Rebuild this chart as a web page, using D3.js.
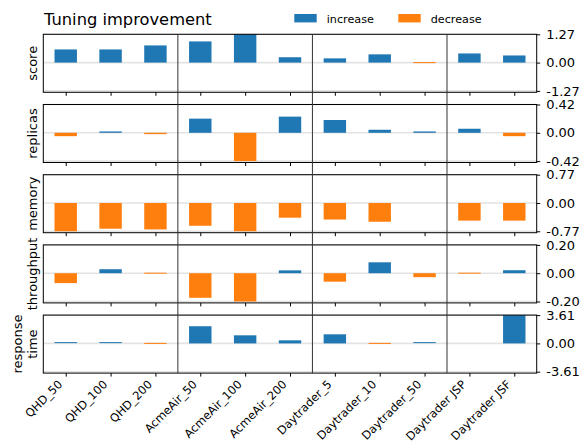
<!DOCTYPE html>
<html>
<head>
<meta charset="utf-8">
<script src="https://cdn.jsdelivr.net/npm/d3@7"></script>
<style>
  body { margin: 0; background: #fff; }
  svg { display: block; }
  text { font-family: "DejaVu Sans", sans-serif; fill: #000; }
</style>
</head>
<body>
<svg id="chart" width="582" height="444"></svg>
<script>
// Benchmarks along the x axis
const categories = ["QHD_50", "QHD_100", "QHD_200", "AcmeAir_50", "AcmeAir_100", "AcmeAir_200",
                    "Daytrader_5", "Daytrader_10", "Daytrader_50", "Daytrader JSP", "Daytrader JSF"];

// One row of panels per metric
const metricLabels = [["score"], ["replicas"], ["memory"], ["throughput"], ["response", "time"]];

// Relative change per metric and benchmark
const scoreValues      = [0.59, 0.59, 0.77, 0.95, 1.27, 0.24, 0.19, 0.37, -0.03, 0.41, 0.32];
const replicasValues   = [-0.05, 0.02, -0.02, 0.21, -0.42, 0.24, 0.19, 0.045, 0.02, 0.06, -0.05];
const memoryValues     = [-0.77, -0.70, -0.72, -0.62, -0.77, -0.40, -0.45, -0.51, 0, -0.48, -0.48];
const throughputValues = [-0.07, 0.028, -0.005, -0.174, -0.20, 0.02, -0.06, 0.077, -0.028, -0.004, 0.021];
const responseValues   = [0.1, 0.1, -0.1, 2.19, 1.03, 0.39, 1.16, -0.1, 0.1, 0, 3.61];

// Symmetric tick value shown on each panel (±max)
const tickMax = [1.27, 0.42, 0.77, 0.20, 3.61];
const tickLabels = [["1.27", "0.00", "-1.27"], ["0.42", "0.00", "-0.42"], ["0.77", "0.00", "-0.77"],
                    ["0.20", "0.00", "-0.20"], ["3.61", "0.00", "-3.61"]];

// Boundaries between application groups
const groupBreaks = [2.5, 5.5, 8.5];

const legendItems = ["increase", "decrease"];

const series = [scoreValues, replicasValues, memoryValues, throughputValues, responseValues];

const BLUE = "#1f77b4", ORANGE = "#ff7f0e";
const svg = d3.select("#chart");

const left = 43.3, right = 536.7;
const panelTop0 = 34.3, panelStep = 70.2, panelH = 58;
const x = d3.scaleLinear().domain([-0.5, 10.5]).range([left, right]);
const barW = x(0.5) - x(0);

// Title
svg.append("text").attr("x", 44).attr("y", 25).attr("font-size", 16.3).text("Tuning improvement");

// Legend
const legend = svg.append("g");
const legendX = [294.3, 398.3];
legendItems.forEach((name, k) => {
  legend.append("rect").attr("x", legendX[k]).attr("y", 14).attr("width", 22.4).attr("height", 8.4)
    .attr("fill", k === 0 ? BLUE : ORANGE);
  legend.append("text").attr("x", legendX[k] + 32.4).attr("y", 22.6).attr("font-size", 11.2).text(name);
});

series.forEach((vals, p) => {
  const top = panelTop0 + p * panelStep;
  const bottom = top + panelH;
  const m = tickMax[p];
  const y = d3.scaleLinear().domain([-m * 1.05, m]).range([bottom, top]);
  const g = svg.append("g");

  // light grid at -max, 0, +max
  [m, 0, -m].forEach(t => {
    g.append("line").attr("x1", left).attr("x2", right).attr("y1", y(t)).attr("y2", y(t))
      .attr("stroke", "#e3e3e3").attr("stroke-width", 1.6);
  });

  // bars (zero values draw nothing)
  const bars = vals.map((v, i) => ({ v, i })).filter(d => d.v !== 0);
  g.selectAll("rect.bar").data(bars).join("rect").attr("class", "bar")
    .attr("x", d => x(d.i) - barW / 2)
    .attr("width", barW)
    .attr("y", d => Math.min(y(d.v), y(0)) - (Math.abs(y(d.v) - y(0)) < 1 ? 0.5 : 0))
    .attr("height", d => Math.max(1, Math.abs(y(d.v) - y(0))))
    .attr("fill", d => d.v > 0 ? BLUE : ORANGE);

  // right axis
  const yAxis = d3.axisRight(y).tickValues([m, 0, -m]).tickSize(3.5).tickPadding(6)
    .tickFormat((d, i) => tickLabels[p][i]);
  const ya = g.append("g").attr("transform", `translate(${right},0)`).call(yAxis);
  ya.select(".domain").remove();
  ya.selectAll("line").attr("stroke", "#000").attr("stroke-width", 1);
  ya.selectAll("text").attr("font-size", 13).attr("font-family", "DejaVu Sans").attr("fill", "#000");

  // bottom ticks
  const xAxis = d3.axisBottom(x).tickValues(d3.range(categories.length)).tickSize(3.5)
    .tickFormat(p === series.length - 1 ? (i => categories[i]) : "");
  const xa = g.append("g").attr("transform", `translate(0,${bottom})`).call(xAxis);
  xa.select(".domain").remove();
  xa.selectAll("line").attr("stroke", "#000").attr("stroke-width", 1);
  if (p === series.length - 1) {
    xa.selectAll("text")
      .attr("font-size", 11.5).attr("font-family", "DejaVu Sans").attr("fill", "#000")
      .attr("text-anchor", "end").attr("dy", null).attr("y", 0)
      .attr("transform", "translate(-3,12) rotate(-45)");
  }

  // frame
  g.append("rect").attr("x", left).attr("y", top).attr("width", right - left).attr("height", panelH)
    .attr("fill", "none").attr("stroke", "#000").attr("stroke-width", 1);

  // metric label
  const lines = metricLabels[p];
  const lab = g.append("text").attr("font-size", 13).attr("text-anchor", "middle")
    .attr("transform", `translate(36.5,${(top + bottom) / 2}) rotate(-90)`);
  lines.forEach((s, k) => {
    lab.append("tspan").attr("x", 0).attr("y", (k - (lines.length - 1)) * 15).text(s);
  });
});

// group separators running through all panels
const sepTop = panelTop0, sepBottom = panelTop0 + (series.length - 1) * panelStep + panelH;
groupBreaks.forEach(b => {
  svg.append("line").attr("x1", x(b)).attr("x2", x(b)).attr("y1", sepTop).attr("y2", sepBottom)
    .attr("stroke", "#333").attr("stroke-width", 1);
});
</script>
</body>
</html>
